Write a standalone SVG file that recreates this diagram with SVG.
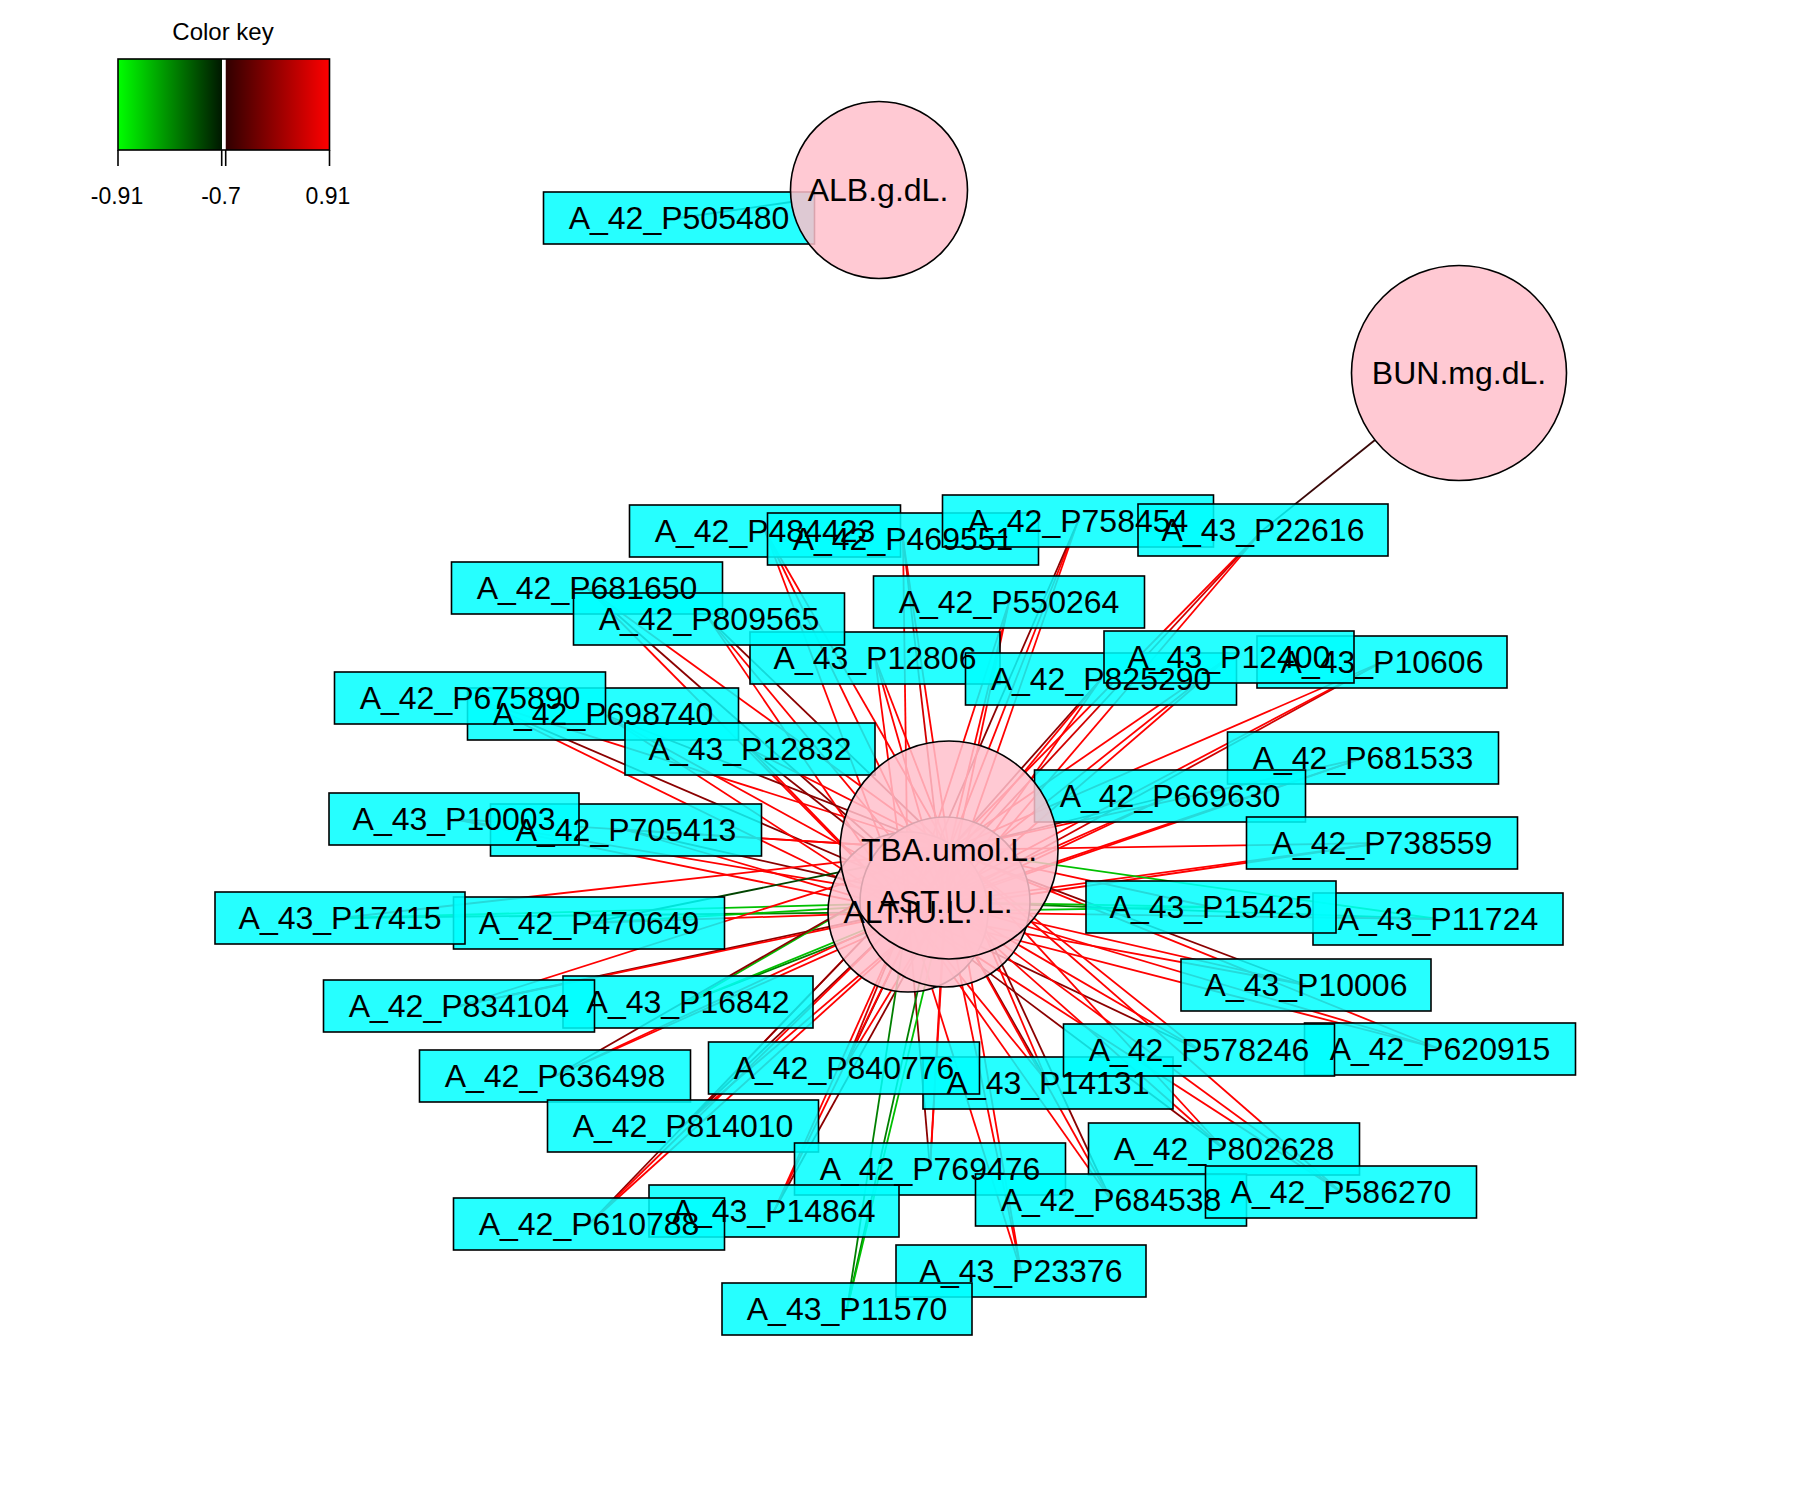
<svg xmlns="http://www.w3.org/2000/svg" width="1800" height="1500" viewBox="0 0 1800 1500">
<defs>
<linearGradient id="gneg" x1="0" y1="0" x2="1" y2="0">
<stop offset="0" stop-color="#00ff00"/><stop offset="1" stop-color="#001800"/>
</linearGradient>
<linearGradient id="gpos" x1="0" y1="0" x2="1" y2="0">
<stop offset="0" stop-color="#300000"/><stop offset="1" stop-color="#ff0000"/>
</linearGradient>
<style>
text{font-family:"Liberation Sans",Arial,sans-serif;fill:#000}
.lbl{font-size:32px;text-anchor:middle}
.key{font-size:23px;text-anchor:middle}
.gene rect{fill:#00ffff;fill-opacity:0.85;stroke:#000;stroke-width:1.6}
.trait circle{fill:#ffc0cb;fill-opacity:0.85;stroke:#000;stroke-width:1.6}
#edges line{stroke-width:1.8;fill:none}
.r{stroke:#ff0000}.r2{stroke:#d00000}.r3{stroke:#8b0000}.r4{stroke:#3a0808}
.g1{stroke:#00c000}.g2{stroke:#008000}.g3{stroke:#004400}
</style>
</defs>
<rect x="0" y="0" width="1800" height="1500" fill="#fff"/>
<g id="colorkey">
<text x="223" y="40" style="font-size:24px;text-anchor:middle">Color key</text>
<rect x="118" y="59" width="104" height="91" fill="url(#gneg)"/>
<rect x="225.5" y="59" width="104" height="91" fill="url(#gpos)"/>
<rect x="222" y="59" width="3.5" height="91" fill="#fff"/>
<rect x="118" y="59" width="211.5" height="91" fill="none" stroke="#000" stroke-width="1.6"/>
<g stroke="#000" stroke-width="1.6">
<line x1="118" y1="150" x2="118" y2="166"/><line x1="221.7" y1="150" x2="221.7" y2="166"/>
<line x1="225.7" y1="150" x2="225.7" y2="166"/><line x1="329.5" y1="150" x2="329.5" y2="166"/>
</g>
<text class="key" x="117" y="204">-0.91</text>
<text class="key" x="221" y="204">-0.7</text>
<text class="key" x="328" y="204">0.91</text>
</g>
<g id="edges">
<line class="r4" x1="679" y1="218" x2="791" y2="202"/>
<line class="r4" x1="1263" y1="530" x2="1375" y2="440"/>
<line class="r" x1="765" y1="531" x2="949" y2="850"/><line class="r" x1="765" y1="531" x2="945" y2="902"/><line class="r" x1="765" y1="531" x2="908" y2="912"/>
<line class="r" x1="903" y1="539" x2="949" y2="850"/><line class="r2" x1="903" y1="539" x2="945" y2="902"/><line class="r" x1="903" y1="539" x2="908" y2="912"/>
<line class="r" x1="1078" y1="521" x2="949" y2="850"/><line class="r" x1="1078" y1="521" x2="945" y2="902"/><line class="r3" x1="1078" y1="521" x2="908" y2="912"/>
<line class="r" x1="1263" y1="530" x2="949" y2="850"/><line class="r" x1="1263" y1="530" x2="945" y2="902"/><line class="r2" x1="1263" y1="530" x2="908" y2="912"/>
<line class="r" x1="587" y1="588" x2="949" y2="850"/><line class="r3" x1="587" y1="588" x2="945" y2="902"/><line class="r" x1="587" y1="588" x2="908" y2="912"/>
<line class="r3" x1="709" y1="619" x2="949" y2="850"/><line class="r" x1="709" y1="619" x2="945" y2="902"/><line class="r" x1="709" y1="619" x2="908" y2="912"/>
<line class="r" x1="1009" y1="602" x2="949" y2="850"/><line class="r" x1="1009" y1="602" x2="945" y2="902"/><line class="r" x1="1009" y1="602" x2="908" y2="912"/>
<line class="r" x1="875" y1="658" x2="949" y2="850"/><line class="r" x1="875" y1="658" x2="945" y2="902"/><line class="r" x1="875" y1="658" x2="908" y2="912"/>
<line class="r3" x1="1101" y1="679" x2="949" y2="850"/><line class="r" x1="1101" y1="679" x2="945" y2="902"/><line class="r" x1="1101" y1="679" x2="908" y2="912"/>
<line class="r" x1="1229" y1="657" x2="949" y2="850"/><line class="r" x1="1229" y1="657" x2="945" y2="902"/><line class="r" x1="1229" y1="657" x2="908" y2="912"/>
<line class="r" x1="1382" y1="662" x2="949" y2="850"/><line class="r2" x1="1382" y1="662" x2="945" y2="902"/><line class="r" x1="1382" y1="662" x2="908" y2="912"/>
<line class="r" x1="1363" y1="758" x2="949" y2="850"/><line class="r" x1="1363" y1="758" x2="945" y2="902"/><line class="r" x1="1363" y1="758" x2="908" y2="912"/>
<line class="r3" x1="1170" y1="796" x2="949" y2="850"/><line class="r" x1="1170" y1="796" x2="945" y2="902"/><line class="r" x1="1170" y1="796" x2="908" y2="912"/>
<line class="r" x1="1382" y1="843" x2="949" y2="850"/><line class="r" x1="1382" y1="843" x2="945" y2="902"/><line class="r" x1="1382" y1="843" x2="908" y2="912"/>
<line class="r" x1="470" y1="698" x2="949" y2="850"/><line class="r3" x1="470" y1="698" x2="945" y2="902"/><line class="r" x1="470" y1="698" x2="908" y2="912"/>
<line class="r3" x1="603" y1="714" x2="949" y2="850"/><line class="r" x1="603" y1="714" x2="945" y2="902"/><line class="r" x1="603" y1="714" x2="908" y2="912"/>
<line class="r" x1="750" y1="749" x2="949" y2="850"/><line class="r3" x1="750" y1="749" x2="945" y2="902"/><line class="r" x1="750" y1="749" x2="908" y2="912"/>
<line class="r" x1="454" y1="819" x2="949" y2="850"/><line class="r" x1="454" y1="819" x2="945" y2="902"/><line class="r" x1="454" y1="819" x2="908" y2="912"/>
<line class="r" x1="626" y1="830" x2="949" y2="850"/><line class="r3" x1="626" y1="830" x2="945" y2="902"/><line class="r" x1="626" y1="830" x2="908" y2="912"/>
<line class="r" x1="340" y1="918" x2="949" y2="850"/><line class="g1" x1="340" y1="918" x2="945" y2="902"/><line class="g2" x1="340" y1="918" x2="908" y2="912"/>
<line class="g3" x1="589" y1="923" x2="949" y2="850"/><line class="g1" x1="589" y1="923" x2="945" y2="902"/><line class="r" x1="589" y1="923" x2="908" y2="912"/>
<line class="r" x1="459" y1="1006" x2="949" y2="850"/><line class="r3" x1="459" y1="1006" x2="945" y2="902"/><line class="r" x1="459" y1="1006" x2="908" y2="912"/>
<line class="g1" x1="688" y1="1002" x2="949" y2="850"/><line class="g2" x1="688" y1="1002" x2="945" y2="902"/><line class="g1" x1="688" y1="1002" x2="908" y2="912"/>
<line class="r3" x1="555" y1="1076" x2="949" y2="850"/><line class="r" x1="555" y1="1076" x2="945" y2="902"/><line class="r" x1="555" y1="1076" x2="908" y2="912"/>
<line class="r" x1="683" y1="1126" x2="949" y2="850"/><line class="r" x1="683" y1="1126" x2="945" y2="902"/><line class="r3" x1="683" y1="1126" x2="908" y2="912"/>
<line class="r3" x1="844" y1="1068" x2="949" y2="850"/><line class="r" x1="844" y1="1068" x2="945" y2="902"/><line class="r2" x1="844" y1="1068" x2="908" y2="912"/>
<line class="r" x1="1048" y1="1083" x2="949" y2="850"/><line class="r3" x1="1048" y1="1083" x2="945" y2="902"/><line class="r" x1="1048" y1="1083" x2="908" y2="912"/>
<line class="r" x1="1199" y1="1050" x2="949" y2="850"/><line class="r" x1="1199" y1="1050" x2="945" y2="902"/><line class="r3" x1="1199" y1="1050" x2="908" y2="912"/>
<line class="r" x1="1440" y1="1049" x2="949" y2="850"/><line class="r" x1="1440" y1="1049" x2="945" y2="902"/><line class="r" x1="1440" y1="1049" x2="908" y2="912"/>
<line class="r3" x1="1306" y1="985" x2="949" y2="850"/><line class="r" x1="1306" y1="985" x2="945" y2="902"/><line class="r" x1="1306" y1="985" x2="908" y2="912"/>
<line class="r" x1="1211" y1="907" x2="949" y2="850"/><line class="g1" x1="1211" y1="907" x2="945" y2="902"/><line class="g1" x1="1211" y1="907" x2="908" y2="912"/>
<line class="g1" x1="1438" y1="919" x2="949" y2="850"/><line class="g2" x1="1438" y1="919" x2="945" y2="902"/><line class="r" x1="1438" y1="919" x2="908" y2="912"/>
<line class="r" x1="1224" y1="1149" x2="949" y2="850"/><line class="r" x1="1224" y1="1149" x2="945" y2="902"/><line class="r3" x1="1224" y1="1149" x2="908" y2="912"/>
<line class="r" x1="1341" y1="1192" x2="949" y2="850"/><line class="r" x1="1341" y1="1192" x2="945" y2="902"/><line class="r" x1="1341" y1="1192" x2="908" y2="912"/>
<line class="r3" x1="1111" y1="1200" x2="949" y2="850"/><line class="r" x1="1111" y1="1200" x2="945" y2="902"/><line class="r" x1="1111" y1="1200" x2="908" y2="912"/>
<line class="r" x1="930" y1="1169" x2="949" y2="850"/><line class="r" x1="930" y1="1169" x2="945" y2="902"/><line class="r3" x1="930" y1="1169" x2="908" y2="912"/>
<line class="r" x1="1021" y1="1271" x2="949" y2="850"/><line class="r" x1="1021" y1="1271" x2="945" y2="902"/><line class="r" x1="1021" y1="1271" x2="908" y2="912"/>
<line class="r" x1="774" y1="1211" x2="949" y2="850"/><line class="r3" x1="774" y1="1211" x2="945" y2="902"/><line class="r" x1="774" y1="1211" x2="908" y2="912"/>
<line class="r3" x1="589" y1="1224" x2="949" y2="850"/><line class="r" x1="589" y1="1224" x2="945" y2="902"/><line class="r" x1="589" y1="1224" x2="908" y2="912"/>
<line class="g2" x1="847" y1="1309" x2="949" y2="850"/><line class="g1" x1="847" y1="1309" x2="945" y2="902"/><line class="g2" x1="847" y1="1309" x2="908" y2="912"/>
</g>
<g id="nodes">
<g id="n-A_42_P505480" class="gene"><rect x="543.5" y="192" width="271" height="52"/></g>
<g id="n-A_42_P484423" class="gene"><rect x="629.5" y="505" width="271" height="52"/></g>
<g id="n-A_42_P469551" class="gene"><rect x="767.5" y="513" width="271" height="52"/></g>
<g id="n-A_42_P758454" class="gene"><rect x="942.5" y="495" width="271" height="52"/></g>
<g id="n-A_43_P22616" class="gene"><rect x="1138" y="504" width="250" height="52"/></g>
<g id="n-A_42_P681650" class="gene"><rect x="451.5" y="562" width="271" height="52"/></g>
<g id="n-A_42_P550264" class="gene"><rect x="873.5" y="576" width="271" height="52"/></g>
<g id="n-A_43_P12806" class="gene"><rect x="750" y="632" width="250" height="52"/></g>
<g id="n-A_42_P809565" class="gene"><rect x="573.5" y="593" width="271" height="52"/></g>
<g id="n-A_43_P10606" class="gene"><rect x="1257" y="636" width="250" height="52"/></g>
<g id="n-A_42_P825290" class="gene"><rect x="965.5" y="653" width="271" height="52"/></g>
<g id="n-A_43_P12400" class="gene"><rect x="1104" y="631" width="250" height="52"/></g>
<g id="n-A_42_P681533" class="gene"><rect x="1227.5" y="732" width="271" height="52"/></g>
<g id="n-A_42_P669630" class="gene"><rect x="1034.5" y="770" width="271" height="52"/></g>
<g id="n-A_42_P738559" class="gene"><rect x="1246.5" y="817" width="271" height="52"/></g>
<g id="n-A_42_P698740" class="gene"><rect x="467.5" y="688" width="271" height="52"/></g>
<g id="n-A_42_P675890" class="gene"><rect x="334.5" y="672" width="271" height="52"/></g>
<g id="n-A_43_P12832" class="gene"><rect x="625" y="723" width="250" height="52"/></g>
<g id="n-A_42_P705413" class="gene"><rect x="490.5" y="804" width="271" height="52"/></g>
<g id="n-A_43_P10003" class="gene"><rect x="329" y="793" width="250" height="52"/></g>
<g id="n-A_42_P470649" class="gene"><rect x="453.5" y="897" width="271" height="52"/></g>
<g id="n-A_43_P17415" class="gene"><rect x="215" y="892" width="250" height="52"/></g>
<g id="n-A_43_P16842" class="gene"><rect x="563" y="976" width="250" height="52"/></g>
<g id="n-A_42_P834104" class="gene"><rect x="323.5" y="980" width="271" height="52"/></g>
<g id="n-A_42_P636498" class="gene"><rect x="419.5" y="1050" width="271" height="52"/></g>
<g id="n-A_42_P814010" class="gene"><rect x="547.5" y="1100" width="271" height="52"/></g>
<g id="n-A_43_P14131" class="gene"><rect x="923" y="1057" width="250" height="52"/></g>
<g id="n-A_42_P840776" class="gene"><rect x="708.5" y="1042" width="271" height="52"/></g>
<g id="n-A_42_P620915" class="gene"><rect x="1304.5" y="1023" width="271" height="52"/></g>
<g id="n-A_42_P578246" class="gene"><rect x="1063.5" y="1024" width="271" height="52"/></g>
<g id="n-A_43_P10006" class="gene"><rect x="1181" y="959" width="250" height="52"/></g>
<g id="n-A_43_P11724" class="gene"><rect x="1313" y="893" width="250" height="52"/></g>
<g id="n-A_43_P15425" class="gene"><rect x="1086" y="881" width="250" height="52"/></g>
<g id="n-A_42_P802628" class="gene"><rect x="1088.5" y="1123" width="271" height="52"/></g>
<g id="n-A_42_P769476" class="gene"><rect x="794.5" y="1143" width="271" height="52"/></g>
<g id="n-A_42_P684538" class="gene"><rect x="975.5" y="1174" width="271" height="52"/></g>
<g id="n-A_42_P586270" class="gene"><rect x="1205.5" y="1166" width="271" height="52"/></g>
<g id="n-A_43_P23376" class="gene"><rect x="896" y="1245" width="250" height="52"/></g>
<g id="n-A_43_P14864" class="gene"><rect x="649" y="1185" width="250" height="52"/></g>
<g id="n-A_42_P610788" class="gene"><rect x="453.5" y="1198" width="271" height="52"/></g>
<g id="n-A_43_P11570" class="gene"><rect x="722" y="1283" width="250" height="52"/></g>
<g id="n-ALB.g.dL." class="trait"><circle cx="879" cy="190" r="88.5"/></g>
<g id="n-ALT.IU.L." class="trait"><circle cx="908" cy="912" r="80"/></g>
<g id="n-AST.IU.L." class="trait"><circle cx="945" cy="902" r="85"/></g>
<g id="n-BUN.mg.dL." class="trait"><circle cx="1459" cy="373" r="107.5"/></g>
<g id="n-TBA.umol.L." class="trait"><circle cx="949" cy="850" r="109"/></g>
</g>
<g id="node-labels" class="lbl">
<text id="t-A_42_P505480" x="679" y="218" dy="0.34em">A_42_P505480</text>
<text id="t-A_42_P484423" x="765" y="531" dy="0.34em">A_42_P484423</text>
<text id="t-A_42_P469551" x="903" y="539" dy="0.34em">A_42_P469551</text>
<text id="t-A_42_P758454" x="1078" y="521" dy="0.34em">A_42_P758454</text>
<text id="t-A_43_P22616" x="1263" y="530" dy="0.34em">A_43_P22616</text>
<text id="t-A_42_P681650" x="587" y="588" dy="0.34em">A_42_P681650</text>
<text id="t-A_42_P550264" x="1009" y="602" dy="0.34em">A_42_P550264</text>
<text id="t-A_43_P12806" x="875" y="658" dy="0.34em">A_43_P12806</text>
<text id="t-A_42_P809565" x="709" y="619" dy="0.34em">A_42_P809565</text>
<text id="t-A_43_P10606" x="1382" y="662" dy="0.34em">A_43_P10606</text>
<text id="t-A_42_P825290" x="1101" y="679" dy="0.34em">A_42_P825290</text>
<text id="t-A_43_P12400" x="1229" y="657" dy="0.34em">A_43_P12400</text>
<text id="t-A_42_P681533" x="1363" y="758" dy="0.34em">A_42_P681533</text>
<text id="t-A_42_P669630" x="1170" y="796" dy="0.34em">A_42_P669630</text>
<text id="t-A_42_P738559" x="1382" y="843" dy="0.34em">A_42_P738559</text>
<text id="t-A_42_P698740" x="603" y="714" dy="0.34em">A_42_P698740</text>
<text id="t-A_42_P675890" x="470" y="698" dy="0.34em">A_42_P675890</text>
<text id="t-A_43_P12832" x="750" y="749" dy="0.34em">A_43_P12832</text>
<text id="t-A_42_P705413" x="626" y="830" dy="0.34em">A_42_P705413</text>
<text id="t-A_43_P10003" x="454" y="819" dy="0.34em">A_43_P10003</text>
<text id="t-A_42_P470649" x="589" y="923" dy="0.34em">A_42_P470649</text>
<text id="t-A_43_P17415" x="340" y="918" dy="0.34em">A_43_P17415</text>
<text id="t-A_43_P16842" x="688" y="1002" dy="0.34em">A_43_P16842</text>
<text id="t-A_42_P834104" x="459" y="1006" dy="0.34em">A_42_P834104</text>
<text id="t-A_42_P636498" x="555" y="1076" dy="0.34em">A_42_P636498</text>
<text id="t-A_42_P814010" x="683" y="1126" dy="0.34em">A_42_P814010</text>
<text id="t-A_43_P14131" x="1048" y="1083" dy="0.34em">A_43_P14131</text>
<text id="t-A_42_P840776" x="844" y="1068" dy="0.34em">A_42_P840776</text>
<text id="t-A_42_P620915" x="1440" y="1049" dy="0.34em">A_42_P620915</text>
<text id="t-A_42_P578246" x="1199" y="1050" dy="0.34em">A_42_P578246</text>
<text id="t-A_43_P10006" x="1306" y="985" dy="0.34em">A_43_P10006</text>
<text id="t-A_43_P11724" x="1438" y="919" dy="0.34em">A_43_P11724</text>
<text id="t-A_43_P15425" x="1211" y="907" dy="0.34em">A_43_P15425</text>
<text id="t-A_42_P802628" x="1224" y="1149" dy="0.34em">A_42_P802628</text>
<text id="t-A_42_P769476" x="930" y="1169" dy="0.34em">A_42_P769476</text>
<text id="t-A_42_P684538" x="1111" y="1200" dy="0.34em">A_42_P684538</text>
<text id="t-A_42_P586270" x="1341" y="1192" dy="0.34em">A_42_P586270</text>
<text id="t-A_43_P23376" x="1021" y="1271" dy="0.34em">A_43_P23376</text>
<text id="t-A_43_P14864" x="774" y="1211" dy="0.34em">A_43_P14864</text>
<text id="t-A_42_P610788" x="589" y="1224" dy="0.34em">A_42_P610788</text>
<text id="t-A_43_P11570" x="847" y="1309" dy="0.34em">A_43_P11570</text>
<text id="t-ALB.g.dL." x="878" y="190" dy="0.34em">ALB.g.dL.</text>
<text id="t-ALT.IU.L." x="908" y="912" dy="0.34em">ALT.IU.L.</text>
<text id="t-AST.IU.L." x="945" y="902" dy="0.34em">AST.IU.L.</text>
<text id="t-BUN.mg.dL." x="1459" y="373" dy="0.34em">BUN.mg.dL.</text>
<text id="t-TBA.umol.L." x="949" y="850" dy="0.34em">TBA.umol.L.</text>
</g>
</svg>
